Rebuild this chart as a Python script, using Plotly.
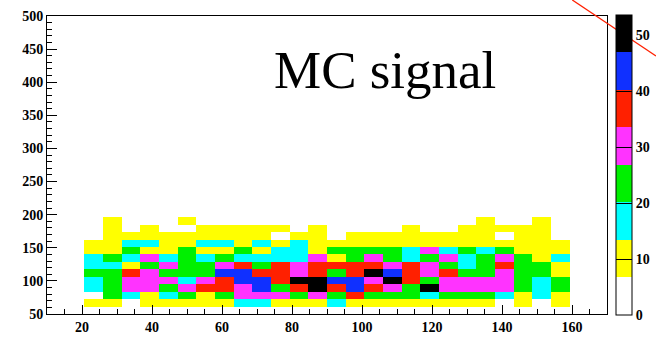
import plotly.graph_objects as go

# ---- histogram binning (ROOT TH2: 30 x-bins 10..170, 40 y-bins 50..500) ----
x_min, x_max, nx = 10.0, 170.0, 30
y_min, y_max, ny = 50.0, 500.0, 40
first_xbin = 2   # first filled x bin
first_ybin = 1   # first filled y bin

# ---- bin contents, one list per y-bin (bottom -> top),
#      columns are x bins 2..27 ----
row_y1  = [10, 10, 0, 10, 10, 10, 10, 10, 17, 17, 10, 10, 10, 17, 10, 10, 10, 10, 10, 10, 10, 10, 0, 10, 0, 10]
row_y2  = [0, 23, 17, 10, 17, 23, 10, 23, 30, 30, 30, 23, 30, 23, 37, 23, 23, 23, 17, 23, 23, 23, 17, 10, 17, 10]
row_y3  = [17, 23, 30, 30, 23, 30, 37, 37, 30, 43, 23, 37, 50, 37, 43, 37, 30, 23, 50, 30, 30, 30, 30, 23, 17, 23]
row_y4  = [17, 23, 30, 30, 30, 17, 30, 37, 43, 43, 37, 50, 50, 43, 43, 30, 50, 37, 23, 30, 30, 30, 30, 23, 17, 23]
row_y5  = [23, 23, 37, 30, 23, 23, 23, 43, 43, 37, 37, 30, 37, 23, 37, 50, 43, 37, 30, 37, 23, 23, 30, 23, 23, 10]
row_y6  = [17, 17, 10, 23, 30, 23, 23, 30, 37, 23, 37, 30, 37, 37, 37, 37, 30, 37, 30, 23, 17, 23, 37, 23, 23, 10]
row_y7  = [17, 23, 17, 30, 17, 23, 17, 23, 17, 17, 17, 17, 30, 10, 23, 30, 23, 17, 23, 30, 17, 23, 30, 23, 10, 17]
row_y8  = [10, 10, 23, 10, 10, 23, 10, 10, 23, 10, 17, 17, 10, 23, 23, 23, 23, 17, 30, 17, 23, 17, 23, 10, 10, 10]
row_y9  = [10, 10, 17, 17, 10, 10, 17, 17, 10, 17, 10, 17, 10, 10, 10, 10, 10, 10, 10, 10, 10, 10, 10, 10, 10, 10]
row_y10 = [0, 10, 10, 10, 10, 10, 10, 10, 10, 10, 0, 10, 10, 0, 10, 10, 10, 10, 10, 10, 10, 10, 0, 10, 10, 0]
row_y11 = [0, 10, 0, 10, 0, 0, 10, 10, 10, 10, 10, 0, 10, 0, 0, 0, 0, 10, 0, 0, 10, 10, 10, 10, 10, 0]
row_y12 = [0, 10, 0, 0, 0, 10, 0, 0, 0, 0, 0, 0, 0, 0, 0, 0, 0, 0, 0, 0, 0, 10, 0, 0, 10, 0]

filled_rows = [row_y1, row_y2, row_y3, row_y4, row_y5, row_y6,
               row_y7, row_y8, row_y9, row_y10, row_y11, row_y12]

z_max = 53.6
palette = ["#FFFFFF", "#FFFF00", "#00FFFF", "#00F000", "#FF33FF",
           "#FF2000", "#1030FF", "#000000"]
cbar_ticks = [0, 10, 20, 30, 40, 50]
x_ticks = [20, 40, 60, 80, 100, 120, 140, 160]
y_ticks = [50, 100, 150, 200, 250, 300, 350, 400, 450, 500]
label_text = "MC signal"

# ---- build full histogram grid ----
dx = (x_max - x_min) / nx
dy = (y_max - y_min) / ny
x_edges = [x_min + i * dx for i in range(nx + 1)]
y_edges = [y_min + j * dy for j in range(ny + 1)]
z = [[None] * nx for _ in range(ny)]
for r, row in enumerate(filled_rows):
    for c, v in enumerate(row):
        if v > 0:
            z[first_ybin + r][first_xbin + c] = v

n = len(palette)
colorscale = []
for k, col in enumerate(palette):
    colorscale.append([k / n, col])
    colorscale.append([(k + 1) / n, col])

font_family = "Liberation Serif"
tick_font = dict(family=font_family, size=14, color="black", weight="bold")

fig = go.Figure()
fig.add_trace(go.Heatmap(
    x=x_edges, y=y_edges, z=z,
    zmin=0, zmax=z_max, colorscale=colorscale,
    zsmooth=False, hoverongaps=False,
    colorbar=dict(
        x=1.016, xanchor="left", y=0.5, yanchor="middle",
        thickness=16, thicknessmode="pixels",
        len=300, lenmode="pixels",
        outlinecolor="black", outlinewidth=1,
        tickvals=cbar_ticks, ticks="inside", ticklen=16, tickcolor="black",
        tickfont=tick_font,
        xpad=0, ypad=0,
    ),
))

fig.update_layout(
    width=656, height=338,
    margin=dict(l=47, r=49, t=16, b=24, autoexpand=False),
    paper_bgcolor="white", plot_bgcolor="white",
    font=tick_font,
    xaxis=dict(
        range=[x_min, x_max], tickvals=x_ticks, tickfont=tick_font,
        ticks="inside", ticklen=9, tickwidth=1, tickcolor="black",
        minor=dict(dtick=5, ticks="inside", ticklen=5, tickcolor="black"),
        showline=True, linecolor="black", linewidth=1, mirror=True,
        showgrid=False, zeroline=False, automargin=False,
    ),
    yaxis=dict(
        range=[y_min, y_max], tickvals=y_ticks, tickfont=tick_font,
        ticks="inside", ticklen=10, tickwidth=1, tickcolor="black",
        minor=dict(dtick=10, ticks="inside", ticklen=5, tickcolor="black"),
        showline=True, linecolor="black", linewidth=1, mirror=True,
        showgrid=False, zeroline=False, automargin=False,
    ),
    showlegend=False,
)

fig.add_annotation(
    text=label_text, xref="paper", yref="paper", x=0.603, y=0.82,
    showarrow=False, xanchor="center", yanchor="middle",
    font=dict(family=font_family, size=53, color="black", weight="normal"),
)

fig.add_shape(
    type="line", xref="paper", yref="paper",
    x0=0.938, y0=1.0537, x1=1.0875, y1=0.866,
    line=dict(color="#FF2000", width=1.3),
)

fig.write_html("out.html", config={"staticPlot": True},
               post_script="document.body.style.margin='0';")
